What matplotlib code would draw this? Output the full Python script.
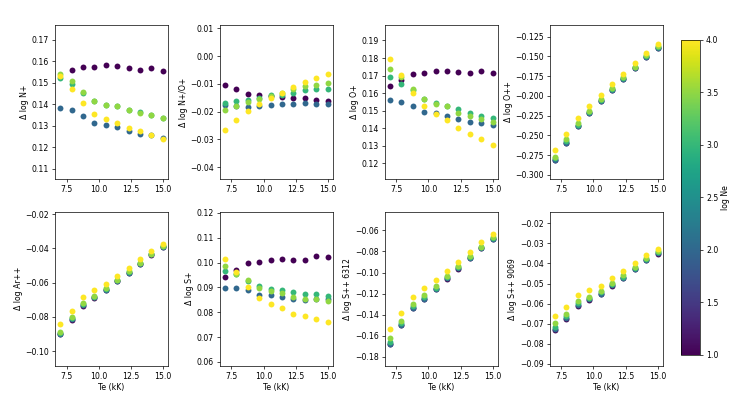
import matplotlib

matplotlib.use("Agg")
import matplotlib.pyplot as plt
import numpy as np
from matplotlib.ticker import MultipleLocator

# electron temperature grid (kK)
te = [7.0, 7.89, 8.78, 9.67, 10.56, 11.44, 12.33, 13.22, 14.11, 15.0]

# log electron densities (one series each)
log_ne = [1.0, 2.0, 3.0, 3.5, 4.0]

nan = np.nan

# each panel: rows follow log_ne order
d_n1 = [
    [nan, 0.1560, 0.1575, 0.1575, 0.1583, 0.1580, 0.1567, 0.1561, 0.1567, 0.1553],
    [0.1384, 0.1373, 0.1344, 0.1313, 0.1305, 0.1293, 0.1276, 0.1262, 0.1256, 0.1243],
    [0.1523, 0.1496, 0.1452, 0.1415, 0.1396, 0.1392, 0.1374, 0.1362, 0.1350, 0.1337],
    [0.1543, 0.1509, 0.1458, 0.1416, 0.1398, 0.1392, 0.1371, 0.1359, 0.1350, 0.1337],
    [0.1530, 0.1472, 0.1404, 0.1354, 0.1331, 0.1314, 0.1288, 0.1274, 0.1256, 0.1236],
]
d_n1o1 = [
    [-0.0105, -0.0120, -0.0136, -0.0141, -0.0145, -0.0148, -0.0151, -0.0151, -0.0159, -0.0161],
    [-0.0177, -0.0180, -0.0183, -0.0179, -0.0177, -0.0174, -0.0173, -0.0170, -0.0171, -0.0174],
    [-0.0169, -0.0163, -0.0159, -0.0151, -0.0141, -0.0139, -0.0132, -0.0123, -0.0120, -0.0120],
    [-0.0195, -0.0179, -0.0167, -0.0153, -0.0143, -0.0134, -0.0120, -0.0108, -0.0103, -0.0097],
    [-0.0266, -0.0229, -0.0196, -0.0172, -0.0151, -0.0132, -0.0111, -0.0095, -0.0078, -0.0066],
]
d_o1 = [
    [0.1641, 0.1675, 0.1711, 0.1713, 0.1726, 0.1726, 0.1720, 0.1713, 0.1728, 0.1716],
    [0.1559, 0.1552, 0.1529, 0.1491, 0.1484, 0.1469, 0.1450, 0.1435, 0.1429, 0.1418],
    [0.1690, 0.1654, 0.1620, 0.1565, 0.1541, 0.1529, 0.1507, 0.1484, 0.1471, 0.1459],
    [0.1735, 0.1692, 0.1626, 0.1569, 0.1539, 0.1525, 0.1488, 0.1467, 0.1450, 0.1437],
    [0.1796, 0.1701, 0.1601, 0.1525, 0.1480, 0.1444, 0.1399, 0.1368, 0.1336, 0.1302],
]
d_o2 = [
    [-0.2817, -0.2595, -0.2385, -0.2217, -0.2070, -0.1923, -0.1789, -0.1651, -0.1512, -0.1395],
    [-0.2815, -0.2593, -0.2383, -0.2215, -0.2068, -0.1921, -0.1787, -0.1649, -0.1510, -0.1393],
    [-0.2790, -0.2572, -0.2370, -0.2203, -0.2055, -0.1908, -0.1774, -0.1640, -0.1501, -0.1384],
    [-0.2769, -0.2551, -0.2349, -0.2190, -0.2035, -0.1900, -0.1762, -0.1632, -0.1489, -0.1372],
    [-0.2685, -0.2484, -0.2278, -0.2131, -0.1993, -0.1854, -0.1720, -0.1586, -0.1456, -0.1342],
]
d_ar2 = [
    [-0.0901, -0.0815, -0.0734, -0.0687, -0.0642, -0.0589, -0.0542, -0.0491, -0.0436, -0.0393],
    [-0.0900, -0.0814, -0.0733, -0.0686, -0.0641, -0.0588, -0.0541, -0.0490, -0.0435, -0.0392],
    [-0.0895, -0.0809, -0.0727, -0.0681, -0.0637, -0.0585, -0.0537, -0.0487, -0.0433, -0.0389],
    [-0.0886, -0.0802, -0.0720, -0.0676, -0.0633, -0.0582, -0.0533, -0.0484, -0.0431, -0.0386],
    [-0.0841, -0.0765, -0.0686, -0.0645, -0.0606, -0.0559, -0.0514, -0.0465, -0.0416, -0.0375],
]
d_s1 = [
    [0.0943, 0.0972, 0.0997, 0.1002, 0.1012, 0.1014, 0.1010, 0.1012, 0.1028, 0.1024],
    [0.0898, 0.0899, 0.0891, 0.0871, 0.0868, 0.0861, 0.0855, 0.0851, 0.0852, 0.0853],
    [0.0968, 0.0953, 0.0926, 0.0907, 0.0894, 0.0891, 0.0880, 0.0874, 0.0872, 0.0867],
    [0.0986, 0.0956, 0.0929, 0.0898, 0.0884, 0.0878, 0.0860, 0.0853, 0.0853, 0.0846],
    [0.1013, 0.0962, 0.0901, 0.0857, 0.0834, 0.0818, 0.0794, 0.0786, 0.0775, 0.0761],
]
d_s2_6312 = [
    [-0.1681, -0.1499, -0.1340, -0.1248, -0.1159, -0.1057, -0.0962, -0.0866, -0.0771, -0.0682],
    [-0.1679, -0.1497, -0.1338, -0.1246, -0.1157, -0.1055, -0.0960, -0.0864, -0.0769, -0.0680],
    [-0.1657, -0.1478, -0.1320, -0.1232, -0.1145, -0.1043, -0.0949, -0.0855, -0.0761, -0.0674],
    [-0.1625, -0.1456, -0.1300, -0.1217, -0.1132, -0.1030, -0.0937, -0.0845, -0.0753, -0.0667],
    [-0.1536, -0.1380, -0.1230, -0.1151, -0.1074, -0.0988, -0.0899, -0.0807, -0.0711, -0.0635],
]
d_s2_9069 = [
    [-0.0731, -0.0676, -0.0611, -0.0580, -0.0554, -0.0510, -0.0475, -0.0430, -0.0383, -0.0351],
    [-0.0729, -0.0674, -0.0609, -0.0578, -0.0552, -0.0508, -0.0473, -0.0428, -0.0381, -0.0349],
    [-0.0719, -0.0663, -0.0598, -0.0571, -0.0544, -0.0501, -0.0466, -0.0423, -0.0376, -0.0344],
    [-0.0699, -0.0652, -0.0587, -0.0565, -0.0535, -0.0495, -0.0460, -0.0418, -0.0371, -0.0339],
    [-0.0661, -0.0615, -0.0557, -0.0532, -0.0510, -0.0475, -0.0439, -0.0399, -0.0356, -0.0326],
]

panels = [
    ("Δ log N+", d_n1, (0.105, 0.177), 0.01),
    ("Δ log N+/O+", d_n1o1, (-0.0443, 0.0112), 0.01),
    ("Δ log O+", d_o1, (0.1109, 0.1989), 0.01),
    ("Δ log O++", d_o2, (-0.3054, -0.1103), 0.025),
    ("Δ log Ar++", d_ar2, (-0.1086, -0.0186), 0.02),
    ("Δ log S+", d_s1, (0.0584, 0.1205), 0.01),
    ("Δ log S++ 6312", d_s2_6312, (-0.1886, -0.0422), 0.02),
    ("Δ log S++ 9069", d_s2_9069, (-0.0912, -0.0141), 0.01),
]

plt.rcParams["font.size"] = 5.6
plt.rcParams["axes.linewidth"] = 0.5
plt.rcParams["xtick.major.width"] = 0.5
plt.rcParams["ytick.major.width"] = 0.5
plt.rcParams["xtick.major.size"] = 2.2
plt.rcParams["ytick.major.size"] = 2.2
plt.rcParams["xtick.major.pad"] = 2
plt.rcParams["ytick.major.pad"] = 2

fig, axes = plt.subplots(2, 4, figsize=(7.48, 4.08), dpi=100)
fig.subplots_adjust(left=0.0735, right=0.886, bottom=0.103, top=0.939, wspace=0.46, hspace=0.21)

norm = plt.Normalize(1.0, 4.0)
cmap = plt.get_cmap("viridis")

x = np.array(te)
for ax, (label, rows, ylim, step) in zip(axes.flat, panels):
    for ne, vals in zip(log_ne, rows):
        ax.scatter(x, vals, s=18, color=cmap(norm(ne)), linewidths=0)
    ax.set_ylim(*ylim)
    ax.yaxis.set_major_locator(MultipleLocator(step))
    ax.set_ylabel(label, labelpad=2)

for ax in axes[1]:
    ax.set_xlabel("Te (kK)", labelpad=1.5)

cax = fig.add_axes([0.910, 0.130, 0.026, 0.772])
sm = plt.cm.ScalarMappable(norm=norm, cmap=cmap)
cb = fig.colorbar(sm, cax=cax)
cb.set_label("log Ne", labelpad=2)
cb.outline.set_linewidth(0.5)

fig.savefig("out.png", dpi=100)
